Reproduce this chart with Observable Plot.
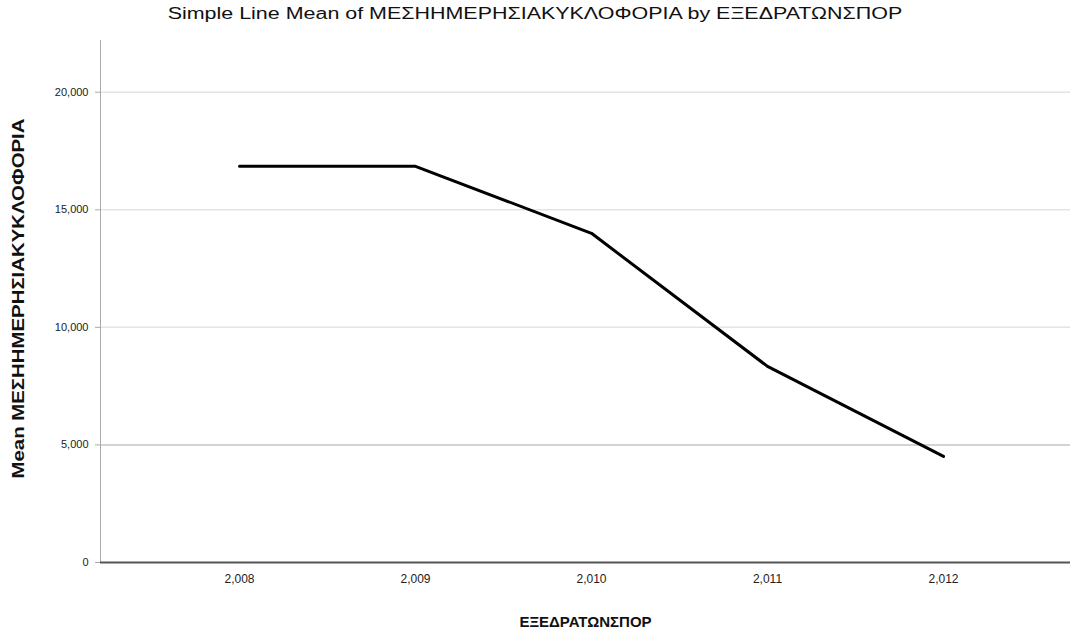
<!DOCTYPE html>
<html><head><meta charset="utf-8">
<script src="https://cdn.jsdelivr.net/npm/d3@7"></script>
<script src="https://cdn.jsdelivr.net/npm/@observablehq/plot@0.6"></script>
<style>
body{margin:0;background:#fff;font-family:"Liberation Sans",Arial,sans-serif;}
#title{height:30px;line-height:28px;text-align:center;font-size:16px;color:#111;width:1070px;transform:scaleX(1.34);transform-origin:535px 50%;}
#chart svg{display:block;}
</style></head><body>
<div id="title">Simple Line Mean of ΜΕΣΗΗΜΕΡΗΣΙΑΚΥΚΛΟΦΟΡΙΑ by ΕΞΕΔΡΑΤΩΝΣΠΟΡ</div>
<div id="chart"></div>
<script>
const years = [2008, 2009, 2010, 2011, 2012];
const meanTraffic = [16850, 16850, 14000, 8340, 4510];
const yTicks = [0, 5000, 10000, 15000, 20000];
const lightGrid = [10000, 15000, 20000];
const darkGrid = [5000];
const yTitle = "Mean ΜΕΣΗΗΜΕΡΗΣΙΑΚΥΚΛΟΦΟΡΙΑ";
const xTitle = "ΕΞΕΔΡΑΤΩΝΣΠΟΡ";

const data = years.map((y, i) => ({year: y, value: meanTraffic[i]}));
const fmt = d3.format(",");

const chart = Plot.plot({
  width: 1070, height: 604,
  marginTop: 10, marginBottom: 72, marginLeft: 100, marginRight: 0,
  style: {fontFamily: "Liberation Sans, Arial, sans-serif", background: "white", color: "#222"},
  x: {type: "point", domain: years, range: [238, 943], padding: 0},
  y: {domain: [0, 22200]},
  marks: [
    Plot.ruleY(lightGrid, {stroke: "#e4e4e4", strokeWidth: 1.5}),
    Plot.ruleY(darkGrid, {stroke: "#c4c4c4", strokeWidth: 1.5}),
    Plot.frame({anchor: "left", stroke: "#aaa"}),
    Plot.axisY(yTicks, {tickFormat: fmt, tickSize: 5, stroke: "#aaa", fontSize: 11, tickPadding: 7, label: null}),
    Plot.axisX(years, {tickFormat: fmt, tickSize: 0, fontSize: 12, tickPadding: 12, label: null}),
    Plot.ruleY([0], {stroke: "#555", strokeWidth: 2}),
    Plot.line(data, {x: "year", y: "value", stroke: "black", strokeWidth: 3}),
    Plot.text([yTitle], {frameAnchor: "left", rotate: -90, dx: -82, dy: -3, textAnchor: "middle", lineAnchor: "middle", fontWeight: "bold", fontSize: 16, fill: "#111"}),
    Plot.text([xTitle], {frameAnchor: "bottom", dy: 60, textAnchor: "middle", lineAnchor: "middle", fontWeight: "bold", fontSize: 15, fill: "#111"})
  ]
});
d3.select(chart).selectAll("text").filter(function() { return this.textContent === yTitle; })
  .attr("textLength", 360).attr("lengthAdjust", "spacingAndGlyphs");
document.getElementById("chart").appendChild(chart);
</script>
</body></html>
